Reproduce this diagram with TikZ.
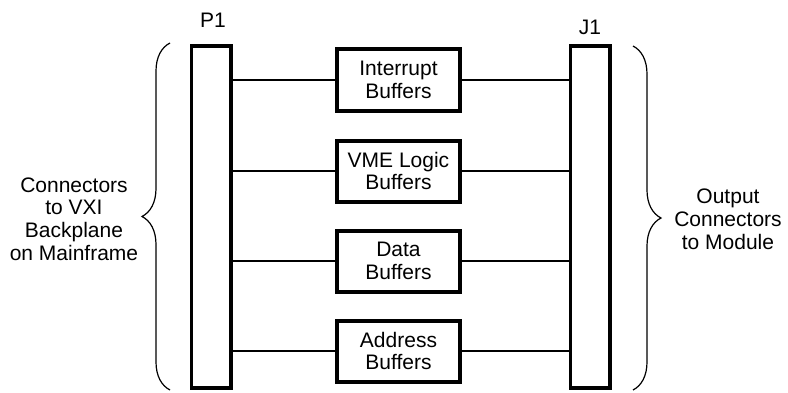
\documentclass[tikz,border=0pt]{standalone}
\usepackage{fontspec}
\setmainfont{Liberation Sans}
\usetikzlibrary{decorations.pathreplacing}

\begin{document}
\begin{tikzpicture}[x=0.5pt, y=0.5pt,
  every node/.style={font=\fontsize{10.5}{11.4}\selectfont, align=center, inner sep=0pt, outer sep=0pt},
  conn/.style={draw, line width=1.8pt, minimum width=19.7pt, minimum height=171pt},
  buf/.style={draw, line width=2pt, minimum width=61.5pt, minimum height=30.5pt},
  wire/.style={line width=0.7pt},
  curly/.style={decorate, decoration={brace, amplitude=14pt}, line width=0.6pt}]
\useasboundingbox (0,0) rectangle (788,392);

% connector bars
\node[conn] (p1) at (211,175) {};
\node[conn] (j1) at (590,175) {};
\node (p1lab) at (213,372) {P1};
\node (j1lab) at (590,365) {J1};

% buffer boxes
\node[buf] (intr) at (398.5,312) {Interrupt\\Buffers};
\node[buf] (vme) at (398.5,221) {VME Logic\\Buffers};
\node[buf] (data) at (398.5,131) {Data\\Buffers};
\node[buf] (addr) at (398.5,41) {Address\\Buffers};

\foreach \b in {intr,vme,data,addr}
  \draw[wire] (p1.east |- \b.west) -- (\b.west) (\b.east) -- (\b.east -| j1.west);

% braces and side texts
\coordinate (lb1) at (170,2);
\coordinate (lb2) at (170,349);
\coordinate (rb1) at (633,346);
\coordinate (rb2) at (633,2);
\draw[curly] (lb1) -- (lb2);
\draw[curly] (rb1) -- (rb2);
\node (lefttxt) at (74,173) {Connectors\\to VXI\\Backplane\\on Mainframe};
\node (righttxt) at (728,173) {Output\\Connectors\\to Module};
\end{tikzpicture}
\end{document}
